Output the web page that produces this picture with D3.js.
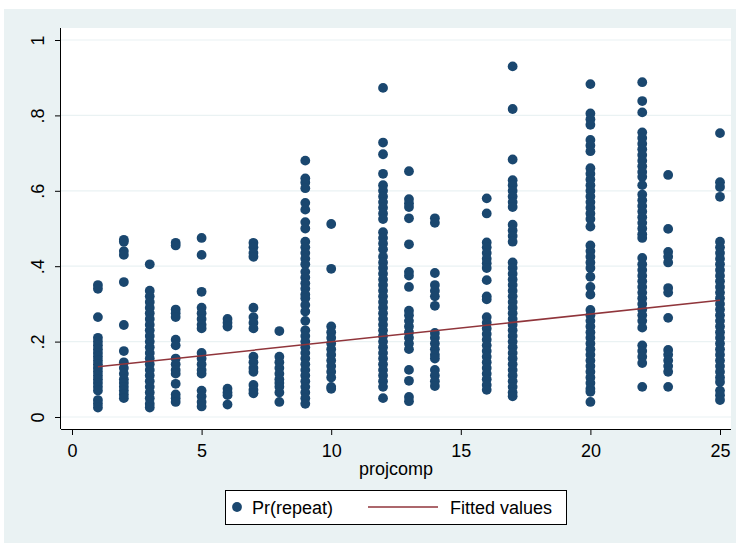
<!DOCTYPE html>
<html>
<head>
<meta charset="utf-8">
<script src="https://cdn.jsdelivr.net/npm/d3@7"></script>
<style>
  body { margin: 0; background: #fff; }
  text { font-family: "Liberation Sans", Arial, sans-serif; }
</style>
</head>
<body>
<svg id="chart" width="736" height="543"></svg>
<script>
// x categories (projcomp) and the Pr(repeat) values stacked at each one
const projcomp = [1, 2, 3, 4, 5, 6, 7, 8, 9, 10, 12, 13, 14, 16, 17, 20, 22, 23, 25];
const prRepeat = [
  [0.35, 0.34, 0.265, 0.21, 0.20, 0.19, 0.18, 0.17, 0.16, 0.15, 0.14, 0.13, 0.12, 0.11, 0.10, 0.09, 0.08, 0.07, 0.045, 0.035, 0.025],
  [0.47, 0.465, 0.44, 0.43, 0.358, 0.244, 0.175, 0.145, 0.13, 0.115, 0.10, 0.09, 0.08, 0.07, 0.06, 0.05],
  [0.405, 0.335, 0.32, 0.305, 0.29, 0.275, 0.26, 0.245, 0.23, 0.215, 0.20, 0.185, 0.17, 0.155, 0.14, 0.125, 0.11, 0.095, 0.08, 0.065, 0.05, 0.035, 0.025],
  [0.462, 0.455, 0.285, 0.275, 0.265, 0.205, 0.19, 0.155, 0.14, 0.125, 0.115, 0.088, 0.06, 0.05, 0.04],
  [0.475, 0.43, 0.332, 0.29, 0.275, 0.26, 0.245, 0.235, 0.17, 0.155, 0.14, 0.125, 0.115, 0.07, 0.055, 0.04, 0.028],
  [0.26, 0.25, 0.24, 0.075, 0.065, 0.058, 0.033],
  [0.462, 0.45, 0.435, 0.425, 0.29, 0.265, 0.25, 0.235, 0.16, 0.145, 0.13, 0.12, 0.085, 0.072, 0.063],
  [0.228, 0.16, 0.145, 0.13, 0.115, 0.10, 0.09, 0.08, 0.065, 0.04],
  [0.68, 0.633, 0.622, 0.607, 0.568, 0.55, 0.517, 0.50, 0.465, 0.45, 0.435, 0.42, 0.405, 0.385, 0.37, 0.355, 0.34, 0.325, 0.315, 0.297, 0.28, 0.255, 0.23, 0.215, 0.20, 0.185, 0.17, 0.155, 0.14, 0.125, 0.11, 0.095, 0.08, 0.065, 0.05, 0.035],
  [0.512, 0.393, 0.24, 0.225, 0.21, 0.195, 0.18, 0.165, 0.15, 0.135, 0.12, 0.105, 0.08, 0.075],
  [0.873, 0.728, 0.697, 0.645, 0.615, 0.60, 0.585, 0.57, 0.555, 0.54, 0.525, 0.49, 0.475, 0.46, 0.445, 0.425, 0.41, 0.395, 0.38, 0.365, 0.35, 0.335, 0.32, 0.305, 0.29, 0.275, 0.26, 0.245, 0.23, 0.215, 0.20, 0.185, 0.17, 0.155, 0.14, 0.125, 0.11, 0.095, 0.08, 0.05],
  [0.652, 0.578, 0.567, 0.557, 0.527, 0.458, 0.385, 0.375, 0.345, 0.282, 0.27, 0.255, 0.24, 0.225, 0.21, 0.195, 0.18, 0.125, 0.096, 0.053, 0.042],
  [0.527, 0.515, 0.382, 0.35, 0.335, 0.32, 0.295, 0.223, 0.21, 0.195, 0.18, 0.165, 0.155, 0.125, 0.11, 0.095, 0.082],
  [0.58, 0.54, 0.463, 0.45, 0.435, 0.42, 0.408, 0.395, 0.363, 0.32, 0.312, 0.265, 0.25, 0.235, 0.22, 0.205, 0.19, 0.175, 0.16, 0.145, 0.13, 0.115, 0.10, 0.085, 0.072],
  [0.93, 0.817, 0.683, 0.628, 0.615, 0.60, 0.585, 0.57, 0.557, 0.51, 0.495, 0.48, 0.465, 0.41, 0.395, 0.38, 0.365, 0.35, 0.335, 0.32, 0.305, 0.29, 0.275, 0.26, 0.245, 0.23, 0.215, 0.20, 0.185, 0.17, 0.155, 0.14, 0.125, 0.11, 0.095, 0.08, 0.065, 0.055],
  [0.883, 0.805, 0.79, 0.775, 0.735, 0.72, 0.705, 0.66, 0.645, 0.63, 0.615, 0.60, 0.585, 0.57, 0.555, 0.54, 0.525, 0.505, 0.455, 0.44, 0.425, 0.41, 0.395, 0.372, 0.345, 0.325, 0.284, 0.27, 0.255, 0.24, 0.225, 0.21, 0.195, 0.18, 0.165, 0.15, 0.135, 0.12, 0.105, 0.09, 0.075, 0.067, 0.04],
  [0.888, 0.838, 0.808, 0.755, 0.74, 0.725, 0.71, 0.695, 0.68, 0.665, 0.65, 0.637, 0.615, 0.59, 0.575, 0.56, 0.545, 0.53, 0.515, 0.50, 0.485, 0.475, 0.422, 0.405, 0.39, 0.375, 0.36, 0.345, 0.33, 0.315, 0.30, 0.285, 0.27, 0.255, 0.237, 0.19, 0.175, 0.16, 0.143, 0.08],
  [0.642, 0.499, 0.438, 0.425, 0.41, 0.342, 0.33, 0.263, 0.178, 0.165, 0.15, 0.135, 0.12, 0.08],
  [0.753, 0.623, 0.61, 0.584, 0.465, 0.45, 0.435, 0.42, 0.405, 0.39, 0.375, 0.36, 0.345, 0.33, 0.315, 0.30, 0.285, 0.27, 0.255, 0.24, 0.225, 0.21, 0.195, 0.18, 0.165, 0.15, 0.135, 0.12, 0.105, 0.093, 0.07, 0.058, 0.045]
];

// fitted line end points
const fitX = [1, 25];
const fitY = [0.133, 0.310];

const xTicks = [0, 5, 10, 15, 20, 25];
const yTicks = [0, 0.2, 0.4, 0.6, 0.8, 1];
const yTickLabels = ['0', '.2', '.4', '.6', '.8', '1'];

const navy = '#1a476f';
const maroon = '#90353b';
const bg = '#eaf2f3';
const fontSize = 18;

const svg = d3.select('#chart');

// graph region + plot region
svg.append('rect').attr('x', 4).attr('y', 9).attr('width', 732).attr('height', 534).attr('fill', bg);
svg.append('rect').attr('x', 61).attr('y', 28).attr('width', 670).attr('height', 401).attr('fill', '#fff');

const x = d3.scaleLinear().domain([0, 25]).range([72, 720]);
const y = d3.scaleLinear().domain([0, 1]).range([417, 40]);

// grid lines
svg.append('g').selectAll('line').data(yTicks).join('line')
  .attr('x1', 61).attr('x2', 731)
  .attr('y1', d => y(d)).attr('y2', d => y(d))
  .attr('stroke', bg).attr('stroke-width', 1.2);

// scatter points
const points = [];
projcomp.forEach((p, i) => prRepeat[i].forEach(v => points.push({ x: p, y: v })));

svg.append('g').selectAll('circle').data(points).join('circle')
  .attr('cx', d => x(d.x)).attr('cy', d => y(d.y))
  .attr('r', 4.9).attr('fill', navy);

// fitted values
const fitData = fitX.map((v, i) => [v, fitY[i]]);
svg.append('path').datum(fitData)
  .attr('d', d3.line().x(d => x(d[0])).y(d => y(d[1])))
  .attr('fill', 'none').attr('stroke', maroon).attr('stroke-width', 1.5);

// axes
const xAxis = svg.append('g').attr('transform', 'translate(0,429)')
  .call(d3.axisBottom(x).tickValues(xTicks).tickSize(6).tickSizeOuter(0));
xAxis.select('.domain').attr('d', 'M61,0.5H731').attr('stroke', '#000');
xAxis.selectAll('text').attr('font-size', fontSize).attr('fill', '#000')
  .attr('font-family', '"Liberation Sans", Arial, sans-serif')
  .attr('y', 28).attr('dy', null);

const yAxis = svg.append('g').attr('transform', 'translate(61,0)')
  .call(d3.axisLeft(y).tickValues(yTicks).tickFormat((d, i) => yTickLabels[i]).tickSize(6).tickSizeOuter(0));
yAxis.select('.domain').attr('d', 'M-0.5,28V429').attr('stroke', '#000');
yAxis.selectAll('text')
  .attr('font-size', fontSize).attr('fill', '#000')
  .attr('font-family', '"Liberation Sans", Arial, sans-serif')
  .attr('text-anchor', 'middle').attr('dy', null)
  .attr('x', null)
  .attr('transform', 'translate(-17,0) rotate(-90)');

// axis title
svg.append('text').attr('x', 396).attr('y', 475).attr('text-anchor', 'middle')
  .attr('font-size', fontSize).text('projcomp');

// legend
const legend = svg.append('g');
legend.append('rect').attr('x', 225.5).attr('y', 490.5).attr('width', 341).attr('height', 34)
  .attr('fill', '#fff').attr('stroke', '#000').attr('stroke-width', 1);
legend.append('circle').attr('cx', 237).attr('cy', 507).attr('r', 4.9).attr('fill', navy);
legend.append('text').attr('x', 252).attr('y', 514).attr('font-size', fontSize).text('Pr(repeat)');
legend.append('line').attr('x1', 368).attr('x2', 438).attr('y1', 507).attr('y2', 507)
  .attr('stroke', maroon).attr('stroke-width', 1.5);
legend.append('text').attr('x', 450).attr('y', 514).attr('font-size', fontSize).text('Fitted values');
</script>
</body>
</html>
